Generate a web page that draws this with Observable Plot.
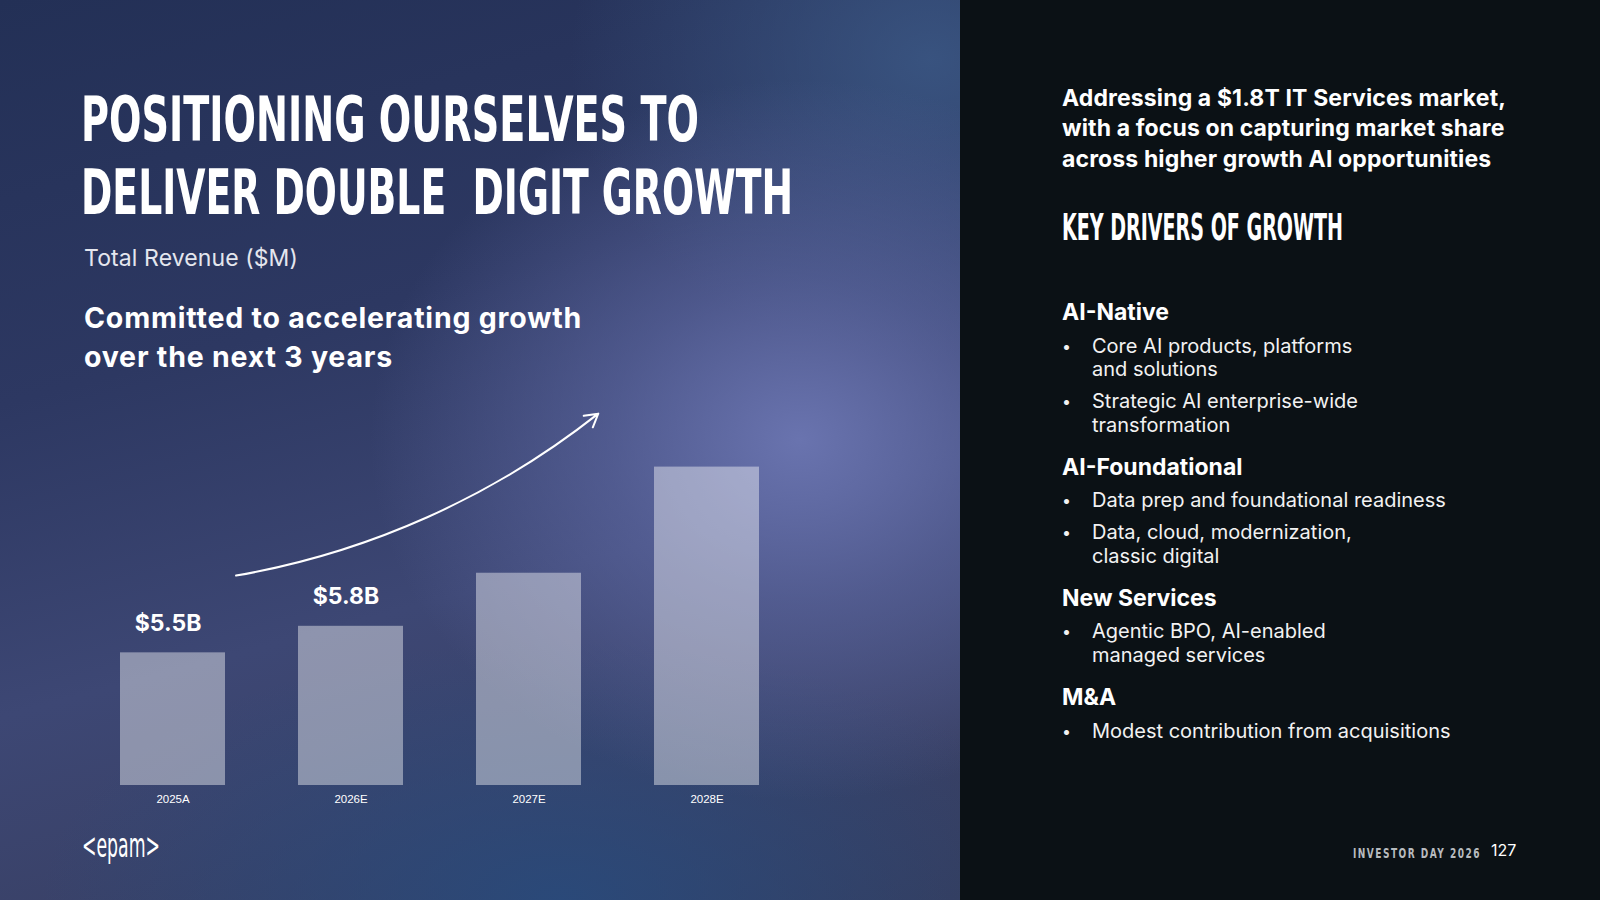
<!DOCTYPE html>
<html>
<head>
<meta charset="utf-8">
<script src="https://cdn.jsdelivr.net/npm/d3@7"></script>
<script src="https://cdn.jsdelivr.net/npm/@observablehq/plot@0.6"></script>
<style>
  html, body { margin: 0; padding: 0; width: 1600px; height: 900px; overflow: hidden; background: #0b1115; }
  #left {
    position: absolute; left: 0; top: 0; width: 960px; height: 900px; overflow: hidden;
    background:
      radial-gradient(ellipse 430px 360px at 800px 440px, rgba(108,118,178,0.95) 0%, rgba(100,110,170,0.55) 45%, rgba(90,100,160,0) 100%),
      radial-gradient(ellipse 520px 260px at 560px 900px, rgba(40,75,125,0.85) 0%, rgba(40,75,125,0) 100%),
      radial-gradient(ellipse 360px 300px at 930px 60px, rgba(60,90,135,0.8) 0%, rgba(60,90,135,0) 100%),
      linear-gradient(165deg, #233056 0%, #2d3862 35%, #3d4774 62%, #363c5c 100%);
  }
  #right { position: absolute; left: 960px; top: 0; width: 640px; height: 900px; background: #0b1115; }
  .t { position: absolute; color: #fff; white-space: pre; font-family: Inter, "Noto Sans", sans-serif; }
  .cond { font-family: "Liberation Sans Narrow", "DejaVu Sans Condensed", sans-serif; font-weight: 700; transform-origin: 0 0; }
  #chart { position: absolute; left: 80px; top: 380px; }
  .drv { position: absolute; left: 1062px; top: 297px; width: 520px; color: #fff; font-family: Inter, sans-serif; }
  .drv h3 { margin: 0; font-size: 23px; line-height: 30px; font-weight: 700; }
  .drv ul { margin: 7.5px 0 14.5px 0; padding: 0; list-style: none; }
  .drv li { position: relative; padding-left: 30px; font-size: 20px; line-height: 23.6px; margin-bottom: 8.4px; color: #f2f2f2; white-space: pre; }
  .drv li::before { content: "•"; position: absolute; left: 0px; top: 0; font-size: 16px; }
</style>
</head>
<body>
<div id="left"></div>
<div id="right"></div>

<div class="t cond" data-w="618" style="left:81px; top:87.5px; font-size:63px; line-height:63px;">POSITIONING OURSELVES TO</div>
<div class="t cond" data-w="712" style="left:81px; top:161px; font-size:63px; line-height:63px;">DELIVER DOUBLE  DIGIT GROWTH</div>
<div class="t fit" data-w="214" style="left:84px; top:243px; font-size:23px; line-height:30px; color:#e4e6ee;">Total Revenue ($M)</div>
<div class="t fit" data-w="498" style="left:84px; top:299px; font-size:28.5px; line-height:38.6px; font-weight:700;">Committed to accelerating growth
over the next 3 years</div>

<div id="chart"></div>

<div class="t fit" data-w="444" style="left:1062px; top:82.7px; font-size:23px; line-height:30.6px; font-weight:700;">Addressing a $1.8T IT Services market,
with a focus on capturing market share
across higher growth AI opportunities</div>
<div class="t cond" data-w="281" style="left:1062px; top:208.5px; font-size:37.5px; line-height:37.5px;">KEY DRIVERS OF GROWTH</div>

<div class="drv" id="drivers"></div>

<div class="t cond" data-w="78" style="left:82px; top:828px; font-size:34px; line-height:34px; font-weight:400;">&lt;epam&gt;</div>
<div class="t cond" data-w="128" style="left:1353px; top:845px; font-size:13.5px; line-height:16px; letter-spacing:2px; color:#b7bbbf;">INVESTOR DAY 2026</div>
<div class="t" style="left:1491px; top:840px; font-size:16px; line-height:20px; color:#fff;">127</div>

<script>
// ---- Chart data ($M) ----
const years = ["2025A", "2026E", "2027E", "2028E"];
const revenue = [5500, 5800, 6400, 7600];
const valueLabels = ["$5.5B", "$5.8B", null, null];
const baseline = 4000;
const arrowFrom = {year: "2025A", value: 6380};
const arrowTo = {year: "2027E", value: 8180};

// ---- Right panel text ----
const driverHeadings = ["AI-Native", "AI-Foundational", "New Services", "M&A"];
const driverBullets = [
  ["Core AI products, platforms\nand solutions", "Strategic AI enterprise-wide\ntransformation"],
  ["Data prep and foundational readiness", "Data, cloud, modernization,\nclassic digital"],
  ["Agentic BPO, AI-enabled\nmanaged services"],
  ["Modest contribution from acquisitions"]
];

const drv = document.getElementById("drivers");
driverHeadings.forEach((h, i) => {
  const h3 = document.createElement("h3"); h3.textContent = h; drv.appendChild(h3);
  const ul = document.createElement("ul");
  driverBullets[i].forEach(b => { const li = document.createElement("li"); li.textContent = b; ul.appendChild(li); });
  drv.appendChild(ul);
});

const table = years.map((y, i) => ({year: y, value: revenue[i], base: baseline, label: valueLabels[i]}));

const chart = Plot.plot({
  width: 720, height: 440,
  marginLeft: 20.5, marginRight: 22.5, marginTop: 7, marginBottom: 35,
  x: {domain: years, paddingInner: 0.412, paddingOuter: 0.1, axis: null},
  y: {domain: [4000, 8500], axis: null},
  style: {background: "transparent", color: "white", overflow: "visible"},
  marks: [
    Plot.barY(table, {x: "year", y1: "base", y2: "value", fill: "#ffffff", fillOpacity: 0.42}),
    Plot.axisX({tickSize: 0, tickPadding: 9, fontSize: 11.5, fontFamily: "Liberation Sans, Arial, sans-serif", fill: "white", label: null}),
    Plot.text(table.filter(d => d.label), {x: "year", y: "value", text: "label", dy: -29.5, dx: -5,
      fontSize: 23, fontWeight: 700, fontFamily: "Inter, sans-serif", fill: "white"}),
    Plot.arrow([{x1: arrowFrom.year, y1: arrowFrom.value, x2: arrowTo.year, y2: arrowTo.value}],
      {x1: "x1", y1: "y1", x2: "x2", y2: "y2", bend: -14, stroke: "white", strokeWidth: 2, headLength: 11,
       dx: 66.5, insetStart: -3.5, insetEnd: -3.5})
  ]
});
document.getElementById("chart").appendChild(chart);

// fit condensed texts to their measured widths
document.querySelectorAll(".cond").forEach(el => {
  const w = el.getBoundingClientRect().width;
  el.style.transform = `scaleX(${+el.dataset.w / w})`;
});
// fit body texts by letter-spacing
document.querySelectorAll(".fit").forEach(el => {
  const w = el.getBoundingClientRect().width;
  const longest = d3.max(el.textContent.split("\n"), s => s.length);
  el.style.letterSpacing = `${(+el.dataset.w - w) / longest}px`;
});
</script>
</body>
</html>
